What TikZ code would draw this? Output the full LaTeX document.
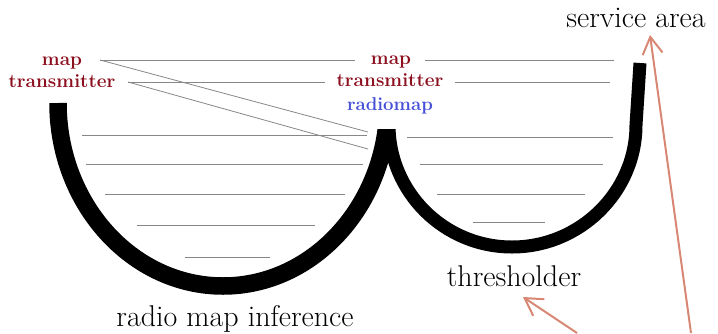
\documentclass[tikz,border=0pt]{standalone}
\usepackage{fontspec}
\usetikzlibrary{arrows.meta}
\definecolor{mapred}{RGB}{140,15,30}
\definecolor{mapblue}{RGB}{70,80,215}
\definecolor{linegray}{RGB}{135,135,135}
\definecolor{salmon}{RGB}{215,135,115}
\begin{document}
\begin{tikzpicture}[x=1pt,y=-1pt,
  gl/.style={draw=linegray, line width=0.8pt},
  bowl/.style={draw=black, line cap=butt, line join=round},
  redlbl/.style={text=mapred, font=\fontsize{19}{22}\selectfont\bfseries, anchor=base, inner sep=0pt},
  bluelbl/.style={text=mapblue, font=\fontsize{18.6}{22}\selectfont\bfseries, anchor=base, inner sep=0pt},
  biglbl/.style={text=black, font=\fontsize{30}{34}\selectfont, anchor=base, inner sep=0pt},
  pointer/.style={draw=salmon, line width=2pt, -{Straight Barb[length=17pt,width=20pt]}}]
\useasboundingbox (0,0) rectangle (718,333);

% labels
\node[redlbl] (lmap) at (62,65) {map};
\node[redlbl] (ltx) at (62,87) {transmitter};
\node[redlbl] (rmap) at (391,64) {map};
\node[redlbl] (rtx) at (390,86) {transmitter};
\node[bluelbl] (rrm) at (390,110) {radiomap};
\node[biglbl] (svc) at (636,27) {service area};
\node[biglbl] (thr) at (514,286) {thresholder};
\node[biglbl] (rmi) at (235,326) {radio map inference};

% gray lines
\coordinate (a1) at (100,60);
\coordinate (a2) at (128,82);
\coordinate (c1) at (368,132);
\coordinate (c2) at (368,149);
\draw[gl] (a1) -- (355,60);
\draw[gl] (a2) -- (325,82);
\draw[gl] (a1) -- (c1);
\draw[gl] (a2) -- (c2);
\draw[gl] (425,60) -- (614,60);
\draw[gl] (455,82) -- (610,82);
\foreach \y/\xa/\xb in {135/82/367, 164/86/363, 194/105/345, 225/137/315, 257/185/270,
                        137/407/613, 164/420/603, 194/437/585, 222/473/545}
  \draw[gl] (\xa,\y) -- (\xb,\y);

% bowls
\begin{scope}
  \clip (0,0) -- (360,0) -- (360,129) -- (420,129) -- (420,0) -- (718,0) -- (718,333) -- (0,333) -- cycle;
  \draw[bowl, line width=17.5pt] (58,103) .. controls (58,204) and (132,286) .. (223,286)
        .. controls (314,286) and (388,204) .. (388,103);
  \draw[bowl, line width=13pt] (389,105) -- (389,125) .. controls (389,192) and (444,247) .. (512,247)
        .. controls (580,247) and (636,192) .. (636,125) -- (640,63);
\end{scope}

% arrows
\coordinate (s1) at (691,333);
\coordinate (t1) at (650,35);
\coordinate (s2) at (577,333);
\coordinate (t2) at (523,297);
\draw[pointer] (s1) -- (t1);
\draw[pointer] (s2) -- (t2);
\end{tikzpicture}
\end{document}
